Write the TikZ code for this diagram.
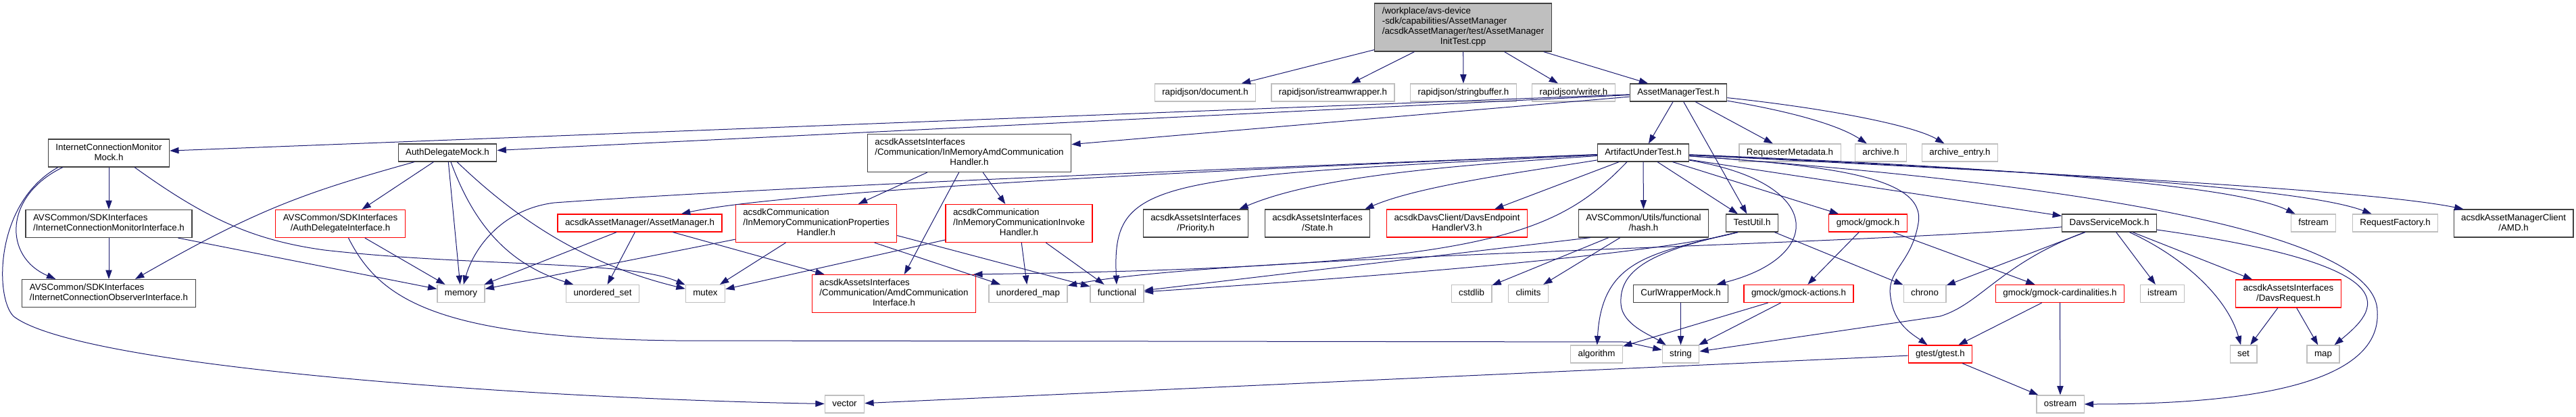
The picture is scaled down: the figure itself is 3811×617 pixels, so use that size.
\documentclass[tikz,border=0pt]{standalone}
\usepackage{fontspec}
\setmainfont{Liberation Sans}
\usepackage{xcolor}
\usepackage{tikz}
\usetikzlibrary{arrows.meta}
\definecolor{edgeblue}{RGB}{25,25,112}
\definecolor{nodegrey}{RGB}{191,191,191}
\definecolor{docgrey}{RGB}{64,64,64}
\newcommand{\lbl}[1]{\begin{tabular}{@{}l@{}}#1\end{tabular}}
\newcommand{\cfl}[1]{\multicolumn{1}{@{}c@{}}{#1}}
\begin{document}
\begin{tikzpicture}[x=0.75pt, y=-0.75pt,
  box/.style={rectangle, line width=0.9pt, fill=white, inner xsep=8.25pt, inner ysep=4.125pt,
              font=\fontsize{10}{11.25}\selectfont},
  docbox/.style={box, draw=docgrey},
  redbox/.style={box, draw=red},
  sysbox/.style={box, draw=nodegrey},
  rootbox/.style={box, draw=docgrey, fill=nodegrey},
  arr/.style={-{Triangle[length=10pt,width=7pt]}, draw=edgeblue, line width=0.75pt}]
\useasboundingbox (0,0) rectangle (3811,617);
\node[rootbox] (root) at (2164.5,40.5) {\lbl{/workplace/avs-device\\-sdk/capabilities/AssetManager\\/acsdkAssetManager/test/AssetManager\\\cfl{InitTest.cpp}}};
\node[sysbox] (rjdoc) at (1783,137) {\lbl{rapidjson/document.h}};
\node[sysbox] (rjisw) at (1972,137) {\lbl{rapidjson/istreamwrapper.h}};
\node[sysbox] (rjsb) at (2165,137) {\lbl{rapidjson/stringbuffer.h}};
\node[sysbox] (rjw) at (2328,137) {\lbl{rapidjson/writer.h}};
\node[docbox] (amt) at (2483,137) {\lbl{AssetManagerTest.h}};
\node[docbox] (icm) at (161,226.5) {\lbl{InternetConnectionMonitor\\\cfl{Mock.h}}};
\node[docbox] (adm) at (662,226) {\lbl{AuthDelegateMock.h}};
\node[docbox] (imah) at (1434,226.5) {\lbl{acsdkAssetsInterfaces\\/Communication/InMemoryAmdCommunication\\\cfl{Handler.h}}};
\node[docbox] (aut) at (2431,226) {\lbl{ArtifactUnderTest.h}};
\node[sysbox] (rqm) at (2648,226) {\lbl{RequesterMetadata.h}};
\node[sysbox] (arch) at (2782.5,226) {\lbl{archive.h}};
\node[sysbox] (arche) at (2899.5,226) {\lbl{archive\_entry.h}};
\node[docbox] (icmi) at (161,331) {\lbl{AVSCommon/SDKInterfaces\\\cfl{/InternetConnectionMonitorInterface.h}}};
\node[redbox] (adi) at (503.5,331) {\lbl{AVSCommon/SDKInterfaces\\\cfl{/AuthDelegateInterface.h}}};
\node[redbox] (amh) at (946.5,330) {\lbl{acsdkAssetManager/AssetManager.h}};
\node[redbox] (cph) at (1207.5,330.5) {\lbl{acsdkCommunication\\/InMemoryCommunicationProperties\\\cfl{Handler.h}}};
\node[redbox] (cih) at (1507.5,330.5) {\lbl{acsdkCommunication\\/InMemoryCommunicationInvoke\\\cfl{Handler.h}}};
\node[docbox] (pri) at (1769,330.5) {\lbl{acsdkAssetsInterfaces\\\cfl{/Priority.h}}};
\node[docbox] (sta) at (1949,330.5) {\lbl{acsdkAssetsInterfaces\\\cfl{/State.h}}};
\node[redbox] (dev) at (2155.5,330.5) {\lbl{acsdkDavsClient/DavsEndpoint\\\cfl{HandlerV3.h}}};
\node[docbox] (hsh) at (2431.5,330.5) {\lbl{AVSCommon/Utils/functional\\\cfl{/hash.h}}};
\node[docbox] (tu) at (2592,330) {\lbl{TestUtil.h}};
\node[redbox] (gm) at (2763.5,330) {\lbl{gmock/gmock.h}};
\node[docbox] (dsm) at (3120.5,330) {\lbl{DavsServiceMock.h}};
\node[sysbox] (fs) at (3422.5,330) {\lbl{fstream}};
\node[sysbox] (rf) at (3543.5,330) {\lbl{RequestFactory.h}};
\node[docbox] (amd) at (3718.5,330.5) {\lbl{acsdkAssetManagerClient\\\cfl{/AMD.h}}};
\node[docbox] (icoi) at (161,434) {\lbl{AVSCommon/SDKInterfaces\\\cfl{/InternetConnectionObserverInterface.h}}};
\node[sysbox] (mem) at (682,434.5) {\lbl{memory}};
\node[sysbox] (us) at (891.5,434.5) {\lbl{unordered\_set}};
\node[sysbox] (mtx) at (1043.5,434.5) {\lbl{mutex}};
\node[redbox] (aci) at (1322.5,434.5) {\lbl{acsdkAssetsInterfaces\\/Communication/AmdCommunication\\\cfl{Interface.h}}};
\node[sysbox] (um) at (1521,434.5) {\lbl{unordered\_map}};
\node[sysbox] (fun) at (1652.5,434.5) {\lbl{functional}};
\node[sysbox] (csl) at (2177,434.5) {\lbl{cstdlib}};
\node[sysbox] (cli) at (2261,434.5) {\lbl{climits}};
\node[docbox] (cwm) at (2486.5,434.5) {\lbl{CurlWrapperMock.h}};
\node[redbox] (gma) at (2661,434.5) {\lbl{gmock/gmock-actions.h}};
\node[sysbox] (chr) at (2847.5,434.5) {\lbl{chrono}};
\node[redbox] (gmc) at (3047.5,434.5) {\lbl{gmock/gmock-cardinalities.h}};
\node[sysbox] (ist) at (3199,434.5) {\lbl{istream}};
\node[redbox] (dr) at (3385.5,434.5) {\lbl{acsdkAssetsInterfaces\\\cfl{/DavsRequest.h}}};
\node[sysbox] (alg) at (2362,524) {\lbl{algorithm}};
\node[sysbox] (str) at (2486.5,524) {\lbl{string}};
\node[redbox] (gt) at (2870.5,524) {\lbl{gtest/gtest.h}};
\node[sysbox] (stdset) at (3319,524) {\lbl{set}};
\node[sysbox] (stdmap) at (3437,524) {\lbl{map}};
\node[sysbox] (vec) at (1249.5,598) {\lbl{vector}};
\node[sysbox] (os) at (3048,598) {\lbl{ostream}};
\draw[arr] (root) -- (rjdoc);
\draw[arr] (root) -- (rjisw);
\draw[arr] (root) -- (rjsb);
\draw[arr] (root) -- (rjw);
\draw[arr] (root) -- (amt);
\draw[arr] (amt) -- (icm);
\draw[arr] (amt) -- (adm);
\draw[arr] (amt) -- (imah);
\draw[arr] (amt) -- (aut);
\draw[arr] (amt) -- (tu);
\draw[arr] (amt) -- (rqm);
\draw[arr] (amt) .. controls (2650,165) and (2720,185) .. (arch);
\draw[arr] (amt) .. controls (2700,160) and (2830,185) .. (arche);
\draw[arr] (aut) .. controls (1700,255) and (1150,285) .. (amh);
\draw[arr] (aut) .. controls (1600,258) and (1100,280) .. (820,300) .. controls (740,310) and (700,370) .. (mem);
\draw[arr] (aut) .. controls (2150,245) and (1950,260) .. ([shift={(-14,0)}]pri.north east);
\draw[arr] (aut) .. controls (2250,255) and (2100,275) .. ([shift={(-8,0)}]sta.north east);
\draw[arr] (aut) -- (dev);
\draw[arr] (aut) -- (hsh);
\draw[arr] ([shift={(-24,0)}]aut.south) .. controls (2300,350) and (2200,395) .. ([shift={(-4,0)}]aci.north east);
\draw[arr] (aut) .. controls (1700,262) and (1645,265) .. (fun);
\draw[arr] (aut) -- (tu);
\draw[arr] (aut) -- (gm);
\draw[arr] (aut) -- (dsm);
\draw[arr] (aut) .. controls (2700,270) and (2700,380) .. (cwm);
\draw[arr] (aut) .. controls (2700,245) and (2850,260) .. (2838,330) .. controls (2828,390) and (2790,400) .. (2797,440) .. controls (2802,480) and (2830,495) .. (gt);
\draw[arr] (aut) .. controls (2900,245) and (3300,270) .. ([shift={(-27,0)}]fs.north);
\draw[arr] (aut) .. controls (2950,250) and (3400,275) .. ([shift={(-35,0)}]rf.north);
\draw[arr] (aut) .. controls (3000,255) and (3500,280) .. ([shift={(-74,0)}]amd.north);
\draw[arr] (aut) .. controls (3250,285) and (3515,370) .. (3517,460) .. controls (3525,575) and (3300,598) .. (os);
\draw[arr] (icm) -- (icmi);
\draw[arr] ([shift={(22,0)}]icm.south west) .. controls (5,290) and (5,380) .. ([shift={(50,0)}]icoi.north west);
\draw[arr] ([shift={(15,0)}]icm.south west) .. controls (-8,300) and (-8,440) .. (20,468) .. controls (120,545) and (800,590) .. (vec);
\draw[arr] ([shift={(-52,0)}]icm.south east) .. controls (300,320) and (370,355) .. (480,370) .. controls (700,395) and (930,385) .. (mtx);
\draw[arr] (icmi) -- (icoi);
\draw[arr] ([shift={(-21,0)}]icmi.south east) -- (mem);
\draw[arr] (adm) -- (adi);
\draw[arr] (adm) .. controls (450,285) and (380,310) .. ([shift={(39,0)}]icoi.north);
\draw[arr] (adm) -- (mem);
\draw[arr] (adm) .. controls (700,330) and (750,390) .. (us);
\draw[arr] (adm) .. controls (760,320) and (860,390) .. (mtx);
\draw[arr] (adi) -- (mem);
\draw[arr] ([shift={(12,0)}]adi.south) .. controls (560,440) and (640,500) .. (1000,504) -- (2405,506) -- (str);
\draw[arr] (amh) -- (mem);
\draw[arr] (amh) -- (us);
\draw[arr] (amh) -- (aci);
\draw[arr] (cph) -- (mem);
\draw[arr] (cph) -- (mtx);
\draw[arr] (cph) -- (um);
\draw[arr] ([shift={(0,18)}]cph.east) -- (fun);
\draw[arr] (imah) -- (cph);
\draw[arr] (imah) -- (cih);
\draw[arr] (imah) -- (aci);
\draw[arr] (cih) -- (um);
\draw[arr] (cih) -- (fun);
\draw[arr] (cih) -- (mtx);
\draw[arr] (tu) -- (chr);
\draw[arr] ([shift={(-21,0)}]tu.south) .. controls (2440,375) and (2370,385) .. (alg);
\draw[arr] ([shift={(-21,0)}]tu.south) .. controls (2440,372) and (2395,400) .. (2398,450) .. controls (2400,480) and (2440,495) .. (str);
\draw[arr] ([shift={(-21,0)}]tu.south) .. controls (2440,380) and (1950,415) .. (fun);
\draw[arr] ([shift={(18,0)}]hsh.south west) -- (fun);
\draw[arr] (hsh) -- (csl);
\draw[arr] (hsh) -- (cli);
\draw[arr] (gm) -- (gma);
\draw[arr] (gm) -- (gmc);
\draw[arr] (gma) -- (str);
\draw[arr] (gma) -- (alg);
\draw[arr] (cwm) -- (str);
\draw[arr] (gmc) -- (gt);
\draw[arr] (gmc) -- (os);
\draw[arr] (gt) -- (os);
\draw[arr] (gt) -- (vec);
\draw[arr] (dsm) -- (chr);
\draw[arr] (dsm) .. controls (2960,390) and (2930,450) .. (2870,468) -- (str);
\draw[arr] (dsm) -- (ist);
\draw[arr] (dsm) .. controls (3230,380) and (3295,440) .. (stdset);
\draw[arr] (dsm) -- (dr);
\draw[arr] (dsm) .. controls (3580,395) and (3515,460) .. (stdmap);
\draw[arr] (dsm) .. controls (2700,365) and (1800,378) .. (um);
\draw[arr] (dr) -- (stdset);
\draw[arr] (dr) -- (stdmap);
\end{tikzpicture}
\end{document}
